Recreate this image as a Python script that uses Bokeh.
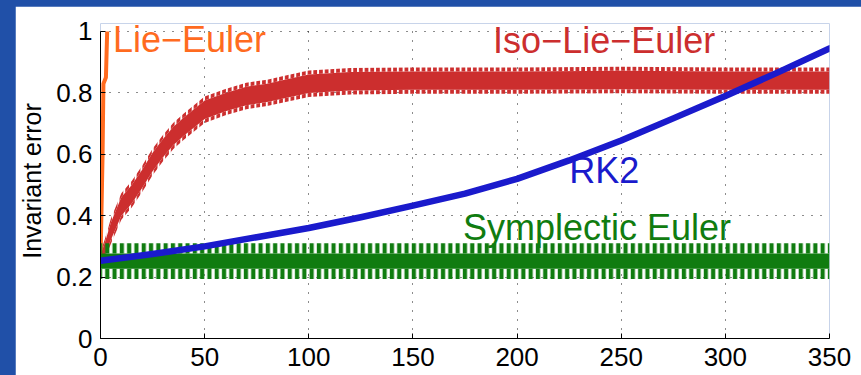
from bokeh.plotting import figure
from bokeh.models import FixedTicker, NumeralTickFormatter, Range1d, Label
from bokeh.layouts import column
from bokeh.embed import file_html
from bokeh.resources import INLINE

# ---------------- data ----------------
# Lie-Euler: blows up almost immediately
lie_t = [0, 1.0, 1.4, 2.6, 3.2]
lie_y = [0.25, 0.60, 0.83, 0.85, 1.00]

# Iso-Lie-Euler: oscillating band (centre, half width of solid core, tooth depth)
iso_t = [0, 2, 5, 10, 15, 20, 25, 30, 35, 40, 50, 60, 70, 80, 90, 100, 120, 150, 200, 250, 300, 350]
iso_mid = [0.26, 0.29, 0.35, 0.43, 0.47, 0.52, 0.575, 0.62, 0.66, 0.69, 0.745, 0.77, 0.79,
           0.80, 0.815, 0.83, 0.838, 0.84, 0.84, 0.842, 0.84, 0.84]
iso_half = [0.012, 0.02, 0.028, 0.03, 0.03, 0.03, 0.03, 0.03, 0.03, 0.03, 0.03, 0.03, 0.03,
            0.03, 0.03, 0.03, 0.03, 0.03, 0.03, 0.03, 0.03, 0.03]
iso_tooth = [0.01, 0.012, 0.013, 0.013, 0.013, 0.013, 0.013, 0.013, 0.013, 0.013, 0.013, 0.013, 0.013,
             0.013, 0.013, 0.013, 0.013, 0.013, 0.013, 0.013, 0.013, 0.013]

# RK2: slowly growing error
rk2_t = [0, 25, 50, 75, 100, 125, 150, 175, 200, 225, 250, 275, 300, 325, 350]
rk2_y = [0.253, 0.275, 0.30, 0.33, 0.36, 0.395, 0.433, 0.472, 0.52, 0.58, 0.645, 0.717, 0.79, 0.866, 0.945]

# Symplectic Euler: bounded oscillation band
sym_t = [0, 350]
sym_mid = [0.252, 0.252]
sym_half = [0.025, 0.025]
sym_tooth = [0.033, 0.033]

x_ticks = [0, 50, 100, 150, 200, 250, 300, 350]
y_ticks = [0, 0.2, 0.4, 0.6, 0.8, 1]

series_names = ["Lie\u2212Euler", "Iso\u2212Lie\u2212Euler", "RK2", "Symplectic Euler"]

# ---------------- style ----------------
ORANGE = "#ff6b1f"
RED = "#cc2e2e"
BLUE = "#1a1acc"
GREEN = "#107c10"
BG_BLUE = "#2050a8"
FONT = "Liberation Sans"

# y range slightly above 1 so the labels near the top are not clipped;
# axis line and grid are bounded to [0, 1]
p = figure(width=846, height=369, output_backend="svg", toolbar_location=None,
           x_range=Range1d(0, 350), y_range=Range1d(0, 1.026),
           min_border_left=82, min_border_right=32, min_border_top=17, min_border_bottom=37,
           background_fill_color="white", border_fill_color="white",
           outline_line_color=None, margin=(6, 0, 0, 15))

# axes
p.xaxis.ticker = FixedTicker(ticks=x_ticks)
p.yaxis.ticker = FixedTicker(ticks=y_ticks)
p.yaxis.formatter = NumeralTickFormatter(format="0.[0]")
p.yaxis.bounds = (0, 1)
p.xaxis.bounds = (0, 350)
for ax in (p.xaxis[0], p.yaxis[0]):
    ax.major_tick_in = 5
    ax.major_tick_out = 0
    ax.minor_tick_in = 0
    ax.minor_tick_out = 0
    ax.axis_line_color = "black"
    ax.axis_line_width = 1
    ax.major_tick_line_color = "black"
    ax.major_label_text_font = FONT
    ax.major_label_text_font_size = "26px"
    ax.major_label_text_color = "black"
p.xaxis.major_label_standoff = 9
p.yaxis.major_label_standoff = 8
p.yaxis.axis_label = "Invariant error"
p.yaxis.axis_label_text_font = FONT
p.yaxis.axis_label_text_font_size = "25px"
p.yaxis.axis_label_text_font_style = "normal"
p.yaxis.axis_label_text_color = "black"
p.yaxis.axis_label_standoff = 7

# grid
p.xgrid.ticker = FixedTicker(ticks=x_ticks)
p.ygrid.ticker = FixedTicker(ticks=y_ticks)
for g in (p.xgrid[0], p.ygrid[0]):
    g.grid_line_color = "black"
    g.grid_line_dash = "1 8"
    g.grid_line_width = 1
    g.grid_line_alpha = 0.9
try:
    p.xgrid[0].cross_bounds = (0, 1)
except Exception:
    pass

# ---------------- series ----------------
# Lie-Euler
p.line(lie_t, lie_y, line_color=ORANGE, line_width=4, line_join="round")

# Iso-Lie-Euler band
iso_core_lo = [m - h for m, h in zip(iso_mid, iso_half)]
iso_core_hi = [m + h for m, h in zip(iso_mid, iso_half)]
iso_tip_lo = [c - d for c, d in zip(iso_core_lo, iso_tooth)]
iso_tip_hi = [c + d for c, d in zip(iso_core_hi, iso_tooth)]
p.varea(x=iso_t, y1=iso_core_lo, y2=iso_core_hi, fill_color=RED)
p.varea(x=iso_t, y1=iso_core_hi, y2=iso_tip_hi, fill_color=None,
        hatch_pattern="|", hatch_color=RED, hatch_weight=3.8, hatch_scale=5.7)
p.varea(x=iso_t, y1=iso_tip_lo, y2=iso_core_lo, fill_color=None,
        hatch_pattern="|", hatch_color=RED, hatch_weight=3.8, hatch_scale=5.7)

# Symplectic Euler band
sym_core_lo = [m - h for m, h in zip(sym_mid, sym_half)]
sym_core_hi = [m + h for m, h in zip(sym_mid, sym_half)]
sym_tip_lo = [c - d for c, d in zip(sym_core_lo, sym_tooth)]
sym_tip_hi = [c + d for c, d in zip(sym_core_hi, sym_tooth)]
p.varea(x=sym_t, y1=sym_core_lo, y2=sym_core_hi, fill_color=GREEN)
p.varea(x=sym_t, y1=sym_core_hi, y2=sym_tip_hi, fill_color=None,
        hatch_pattern="|", hatch_color=GREEN, hatch_weight=4.2, hatch_scale=7.3)
p.varea(x=sym_t, y1=sym_tip_lo, y2=sym_core_lo, fill_color=None,
        hatch_pattern="|", hatch_color=GREEN, hatch_weight=4.2, hatch_scale=7.3)

# RK2
p.line(rk2_t, rk2_y, line_color=BLUE, line_width=6.5, line_cap="round", line_join="round")

# ---------------- labels ----------------
label_pos = [(6.0, 0.973), (188.5, 0.972), (225.0, 0.547), (174.0, 0.361)]
label_col = [ORANGE, RED, BLUE, GREEN]
for name, (lx, ly), c in zip(series_names, label_pos, label_col):
    p.add_layout(Label(x=lx, y=ly, text=name, text_font=FONT, text_font_size="36px",
                       text_color=c, text_baseline="alphabetic", text_align="left"))

layout = column(p, styles={"background-color": BG_BLUE})

open("out.html", "w").write(file_html(layout, INLINE))
